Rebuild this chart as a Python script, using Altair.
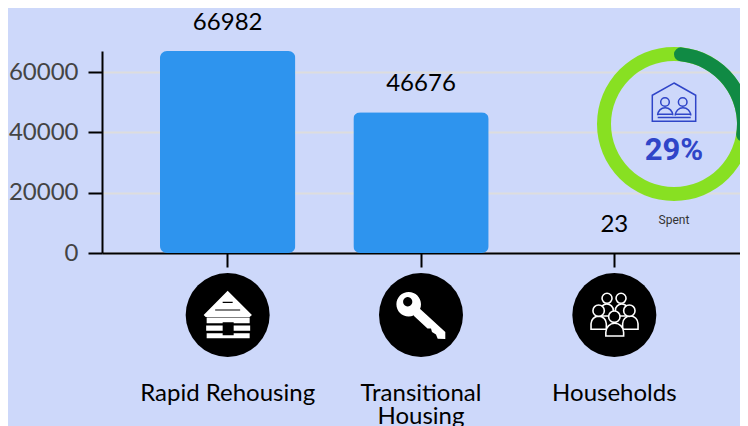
import altair as alt
import pandas as pd

categories = ["Rapid Rehousing", "Transitional Housing", "Households"]
values = [66982, 46676, 23]
ring_total = [100]
spent_percent = [29]
center_text = ["29%"]
caption_text = ["Spent"]
tick_values = [0, 20000, 40000, 60000]

BG = "#cdd8fa"
BLUE = "#2e94ee"
INK = "#2f45c8"
FONT = "Lato"
NARROW = "Roboto"


def u(v):
    return f"{v / 24:.4f}"


def poly(points):
    return "M" + " L".join(f"{u(x)} {u(y)}" for x, y in points) + " Z"


def circle(cx, cy, r):
    return (f"M{u(cx - r)} {u(cy)} A{u(r)} {u(r)} 0 1 1 {u(cx + r)} {u(cy)} "
            f"A{u(r)} {u(r)} 0 1 1 {u(cx - r)} {u(cy)} Z")


def dome(x0, x1, top, base):
    r = (x1 - x0) / 2
    return (f"M{u(x0)} {u(base)} L{u(x0)} {u(top + r)} A{u(r)} {u(r)} 0 0 1 {u(x1)} {u(top + r)} "
            f"L{u(x1)} {u(base)} Z")


def lbar(x0, x1, y0, y1):
    return poly([(x0, y0), (x1, y0), (x1, y1), (x0, y1)])


cabin_white = (
    poly([(0, -24.3), (24.3, 0), (22, 2), (-22, 2), (-24, 0)])
    + lbar(-21, 22, 2.6, 8.3) + lbar(-21.5, 22.5, 10.4, 15.7) + lbar(-21, 22, 18.2, 23.3)
)
cabin_black = lbar(-5, 6, 7.3, 20.3) + lbar(-5, 5, -13.2, -12) + lbar(-12.5, 12.5, -5.6, -4.4)
key_white = (
    circle(-12.3, -10.7, 12.3)
    + poly([(-6, -5), (-3, -8), (24.3, 17), (24.3, 24), (16.7, 23.7), (15, 19.5), (11, 17),
            (10, 13.5), (6.5, 13.5), (-7, 1)])
)
key_black = circle(-13.3, -13.3, 4.6)
people_parts = [
    dome(-14, -1, -11, 1), dome(1, 14, -11, 1),
    circle(-7.3, -16.7, 5), circle(6.7, -16.7, 5),
    dome(-23.3, -8, 1, 14.3), dome(8.3, 23.7, 1, 14.3),
    circle(-15.7, -4.3, 5.7), circle(15, -4.3, 5.7),
    dome(-8.5, 9.3, 8.3, 21), circle(0, 1.7, 5.7),
]
house_icon = (
    poly([(0, -19), (21.7, -6.7), (21.7, 19.3), (-21.7, 19.3), (-21.7, -6.7)])
    + circle(-9, 0, 4.3) + circle(8.7, 0, 4.3)
    + dome(-16.3, -1.3, 5.7, 12.3) + dome(1.3, 16.7, 5.7, 12.3)
    + "M" + u(-16.3) + " " + u(15.5) + " L" + u(16.7) + " " + u(15.5)
)

df = pd.DataFrame({"category": categories, "value": values})

x = alt.X(
    "category:N",
    sort=categories,
    scale=alt.Scale(paddingInner=0.3, paddingOuter=0.3),
    axis=alt.Axis(
        title=None, labelAngle=0, labelFont=FONT, labelFontSize=24, labelColor="#000000",
        labelPadding=114, labelLimit=0, labelLineHeight=23, labelBaseline="top",
        labelExpr="datum.label == 'Transitional Housing' ? ['Transitional', 'Housing'] : datum.label",
        domainColor="#000000", domainWidth=2, tickColor="#000000", tickWidth=2, tickSize=14,
        grid=False,
    ),
)
y = alt.Y(
    "value:Q",
    scale=alt.Scale(domain=[0, max(values)], nice=False),
    axis=alt.Axis(
        title=None, values=tick_values, format="d", labelFont=FONT, labelFontSize=24,
        labelColor="#444444",
        labelPadding=10, domainColor="#000000", domainWidth=2, tickColor="#000000", tickWidth=2,
        tickSize=14, grid=True, gridColor="#dddddd", gridWidth=2,
    ),
)

bars = alt.Chart(df).mark_bar(color=BLUE, cornerRadius=7).encode(x=x, y=y)
labels = alt.Chart(df).mark_text(font=FONT, fontSize=24, color="#000000", dy=-28, baseline="middle").encode(
    x=alt.X("category:N", sort=categories), y=alt.Y("value:Q"), text="value:Q"
)


def icon(cat, path, fill=None, stroke=None, sw=1.6):
    kw = {"filled": True, "opacity": 1, "size": 2304}
    d = pd.DataFrame({"category": [cat], "path": [path]})
    mk = alt.Chart(d).mark_point(
        **kw, fill=fill if fill else "transparent",
        stroke=stroke if stroke else "transparent", strokeWidth=sw if stroke else 0,
    )
    return mk.encode(
        x=alt.X("category:N", sort=categories), y=alt.value(264),
        shape=alt.Shape("path:N", scale=None, legend=None),
    )


discs = alt.Chart(df).mark_point(filled=True, color="#000000", opacity=1, size=7056).encode(
    x=alt.X("category:N", sort=categories), y=alt.value(264), shape=alt.value("circle")
)

icons = [
    icon(categories[0], cabin_white, fill="#ffffff"),
    icon(categories[0], cabin_black, fill="#000000"),
    icon(categories[1], key_white, fill="#ffffff"),
    icon(categories[1], key_black, fill="#000000"),
] + [icon(categories[2], p, fill="#000000", stroke="#ffffff") for p in people_parts]

CX, CY = 572, 73
ring_scale = alt.Scale(domain=[0, 100], range=[0, 6.28318530718])
ring = alt.Chart(pd.DataFrame({"v": ring_total, "s": [0]})).mark_arc(
    radius=77, radius2=63, color="#88e022"
).encode(
    x=alt.value(CX), y=alt.value(CY),
    theta=alt.Theta("v:Q", scale=ring_scale, stack=None), theta2="s:Q",
)
spent = alt.Chart(pd.DataFrame({"v": spent_percent, "s": [0]})).mark_arc(
    radius=77, radius2=63, color="#108a44", cornerRadius=7
).encode(
    x=alt.value(CX), y=alt.value(CY),
    theta=alt.Theta("v:Q", scale=ring_scale, stack=None), theta2="s:Q",
)
house = alt.Chart(pd.DataFrame({"path": [house_icon]})).mark_point(
    filled=False, stroke=INK, strokeWidth=1.5, opacity=1, size=2304
).encode(
    x=alt.value(CX), y=alt.value(CY - 22),
    shape=alt.Shape("path:N", scale=None, legend=None),
)
pct = alt.Chart(pd.DataFrame({"t": center_text})).mark_text(
    font=NARROW, fontWeight="bold", fontSize=31, color=INK, baseline="middle"
).encode(x=alt.value(CX), y=alt.value(100), text="t:N")
caption = alt.Chart(pd.DataFrame({"t": caption_text})).mark_text(
    font=NARROW, fontSize=12, color="#333333", baseline="middle"
).encode(x=alt.value(CX), y=alt.value(169), text="t:N")

chart = alt.layer(
    bars, labels, discs, *icons, ring, spent, house, pct, caption
).resolve_scale(theta="independent").properties(
    width=638,
    height=202,
    background=BG,
    padding={"left": 94, "top": 43, "right": 0, "bottom": 173},
    autosize=alt.AutoSizeParams(type="none"),
).configure_view(stroke=None)

chart.save("out.html", embed_options={"renderer": "svg", "actions": False})
